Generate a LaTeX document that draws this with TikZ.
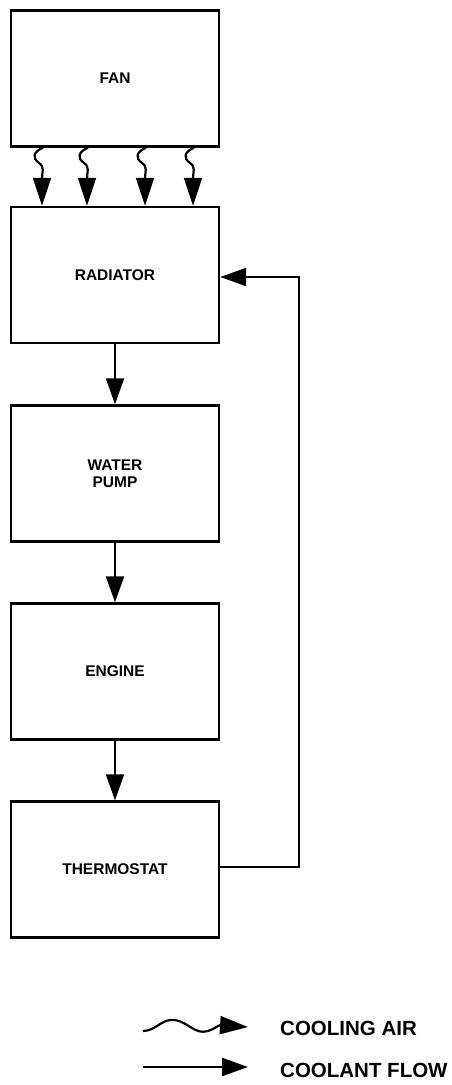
\documentclass[tikz,border=0pt]{standalone}
\usepackage{fontspec}
\setmainfont{Liberation Sans}
\usetikzlibrary{arrows.meta}
\begin{document}
\begin{tikzpicture}[x=1pt,y=-1pt,
  blk/.style={draw, line width=2.4pt, minimum width=208pt, minimum height=136pt, inner sep=0pt, align=center,
    font=\fontsize{15.5}{17}\selectfont\bfseries},
  flow/.style={line width=2.2pt, -{Triangle[length=26pt,width=18pt]}},
  air/.style={line width=2.2pt, -{Triangle[length=28pt,width=18pt]}},
  lbl/.style={anchor=west, font=\fontsize{20.5}{22}\selectfont\bfseries, inner sep=0pt}]
\useasboundingbox (0,0) rectangle (452,1085);
\node[blk] (fan) at (115,78.5) {FAN};
\node[blk] (rad) at (115,275) {RADIATOR};
\node[blk] (pump) at (115,473.5) {WATER\\PUMP};
\node[blk] (eng) at (115,671.5) {ENGINE};
\node[blk] (th) at (115,869.5) {THERMOSTAT};
% cooling air arrows
\foreach \xx in {42,87,145,193}{
  \draw[air] ([xshift={(\xx-114)*1pt}]fan.south) .. controls (\xx-9,152) and (\xx-10,158) .. (\xx-3,163) .. controls (\xx+3,167) and (\xx,172) .. ([xshift={(\xx-115)*1pt}]rad.north);
}
% coolant flow arrows
\draw[flow] (rad.south) -- (pump.north);
\draw[flow] (pump.south) -- (eng.north);
\draw[flow] (eng.south) -- (th.north);
\coordinate (c1) at (299,867);
\coordinate (c2) at (299,277);
\draw[flow] (th.east |- c1) -- (c1) -- (c2) -- (rad.east |- c2);
% legend
\coordinate (la) at (143,1031);
\coordinate (lb) at (248,1027);
\draw[air] (la) .. controls (156,1031) and (162,1018) .. (175,1020) .. controls (188,1022) and (195,1035) .. (208,1031) .. controls (215,1029) and (218,1025) .. (lb);
\node[lbl] (t1) at (280,1028) {COOLING AIR};
\coordinate (lc) at (143,1067);
\coordinate (ld) at (248,1067);
\draw[flow] (lc) -- (ld);
\node[lbl] (t2) at (280,1070) {COOLANT FLOW};
\end{tikzpicture}
\end{document}
